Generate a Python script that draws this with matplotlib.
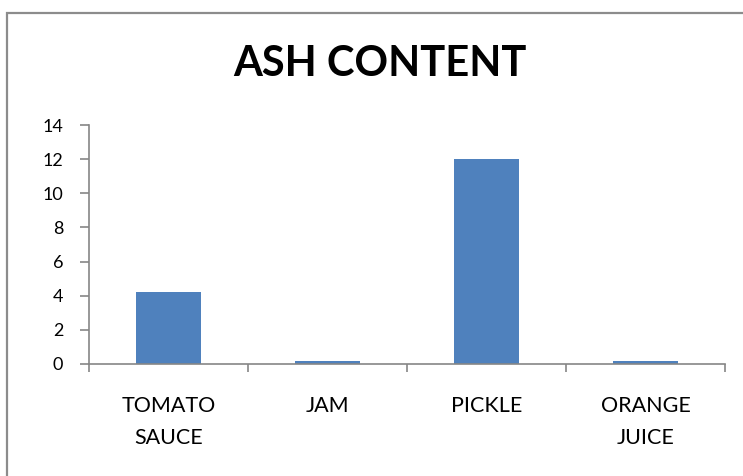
import matplotlib.pyplot as plt
from matplotlib.patches import Rectangle

# Ash content per product
products = ['TOMATO\nSAUCE', 'JAM', 'PICKLE', 'ORANGE\nJUICE']
ash = [4.2, 0.2, 12.0, 0.2]
y_ticks = [0, 2, 4, 6, 8, 10, 12, 14]

plt.rcParams['font.family'] = ['Lato', 'DejaVu Sans']

fig = plt.figure(figsize=(7.43, 4.76), dpi=100)
ax = fig.add_axes([89 / 743, 1 - 364 / 476, 636 / 743, 239 / 476])

ax.bar(range(len(products)), ash, width=0.41, color='#4F81BD')

ax.set_xlim(-0.5, len(products) - 0.5)
ax.set_ylim(0, 14)
ax.set_yticks(y_ticks)

# category labels at bar centres, tick marks between categories
ax.set_xticks(range(len(products)))
ax.set_xticklabels(products, fontsize=15.5, linespacing=1.75)
ax.set_xticks([i - 0.5 for i in range(len(products) + 1)], minor=True)
ax.tick_params(axis='x', which='major', length=0, pad=23)
ax.tick_params(axis='x', which='minor', length=6, width=1.2, color='#868686')
ax.tick_params(axis='y', length=6.5, width=1.2, color='#868686', labelsize=13, pad=12)

for side in ['top', 'right']:
    ax.spines[side].set_visible(False)
for side in ['left', 'bottom']:
    ax.spines[side].set_color('#868686')
    ax.spines[side].set_linewidth(1.2)

fig.text(380 / 743, 1 - 64 / 476, 'ASH CONTENT', fontsize=30, fontweight='bold',
         ha='center', va='center')

# chart area border
fig.patches.append(Rectangle((7 / 743, -0.1), 1.2, 1.1 - 13 / 476,
                             transform=fig.transFigure, fill=False,
                             edgecolor='#8C8C8C', linewidth=1.6))

fig.savefig('out.png', dpi=100)
